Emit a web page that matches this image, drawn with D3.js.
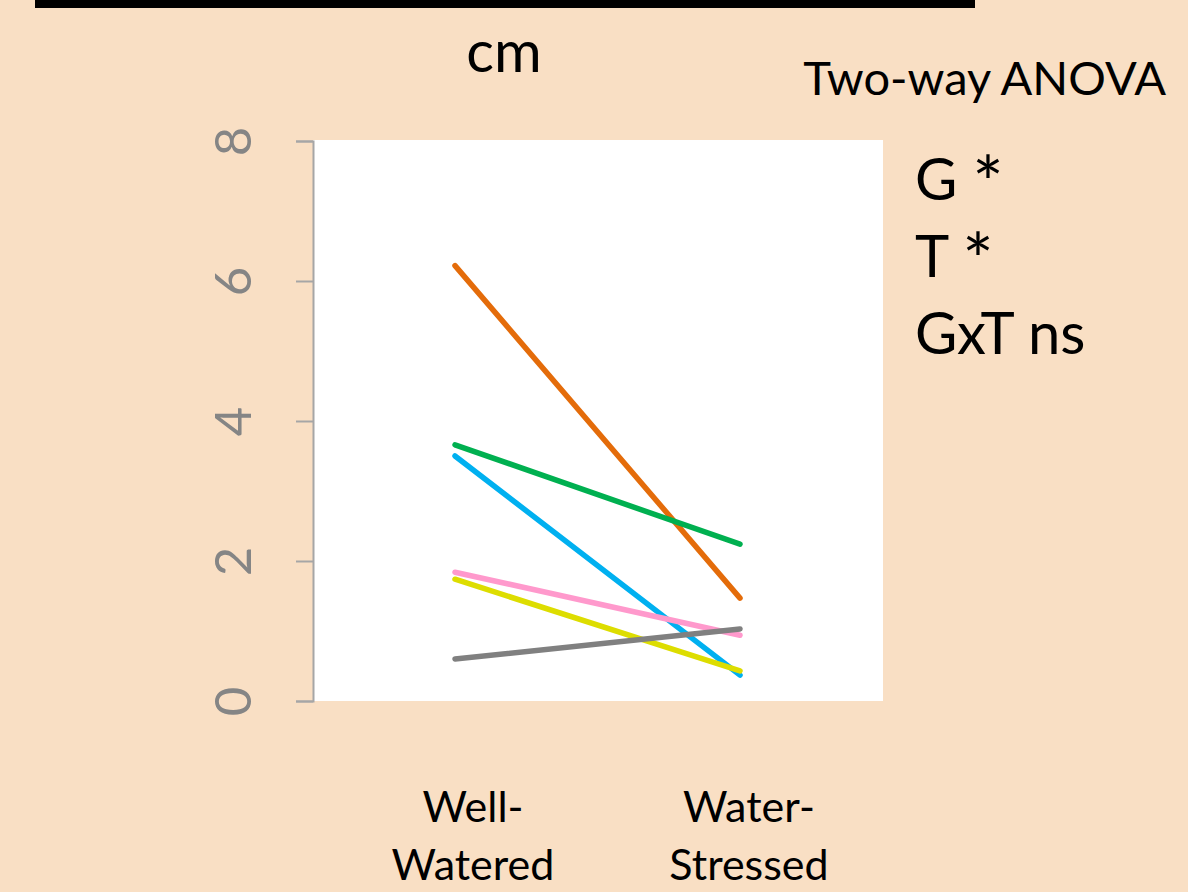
<!DOCTYPE html>
<html>
<head>
<meta charset="utf-8">
<script src="https://cdn.jsdelivr.net/npm/d3@7"></script>
<style>
  html, body { margin: 0; padding: 0; background: #f9dfc4; }
  svg { display: block; }
</style>
</head>
<body>
<svg id="chart" width="1188" height="892"></svg>
<script>
// Treatments on the x axis
const treatments = ["Well-Watered", "Water-Stressed"];
const treatmentLines = [["Well-", "Watered"], ["Water-", "Stressed"]];

// Genotype means (cm) under each treatment
const genotypes = ["orange", "green", "blue", "pink", "yellow", "gray"];
const wellWatered   = [6.22, 3.66, 3.50, 1.84, 1.74, 0.60];
const waterStressed = [1.47, 2.24, 0.37, 0.94, 0.43, 1.03];
const lineColors = ["#e46c0a", "#00b050", "#00b0f0", "#ff99cc", "#dddd00", "#808080"];

// Y axis ticks
const yTicks = [0, 2, 4, 6, 8];

// ANOVA summary: effect name and significance
const anovaTitle = "Two-way ANOVA";
const anovaEffects = ["G", "T", "GxT"];
const anovaSignif = ["*", "*", "ns"];

const svg = d3.select("#chart");
const font = "Lato, 'Open Sans', sans-serif";

// Background and header rule
svg.append("rect").attr("width", 1188).attr("height", 892).attr("fill", "#f9dfc4");
svg.append("rect").attr("x", 35).attr("y", 0).attr("width", 940).attr("height", 8).attr("fill", "#000");

const plot = { left: 313, right: 883, top: 141, bottom: 701 };

svg.append("rect")
  .attr("x", plot.left).attr("y", plot.top - 1)
  .attr("width", plot.right - plot.left).attr("height", plot.bottom - plot.top + 1)
  .attr("fill", "#ffffff");

const x = d3.scalePoint().domain(treatments).range([455, 740]);
const y = d3.scaleLinear().domain([0, 8]).range([plot.bottom, plot.top]);

// Y axis (tick labels rotated, base-graphics style)
const yAxis = svg.append("g")
  .attr("transform", `translate(${plot.left},0)`)
  .call(d3.axisLeft(y).tickValues(yTicks).tickSize(17).tickSizeOuter(17).tickPadding(0).tickFormat(d3.format("d")));
yAxis.select(".domain").attr("stroke", "#a6a6a6").attr("stroke-width", 2);
yAxis.selectAll(".tick line").attr("stroke", "#a6a6a6").attr("stroke-width", 2);
yAxis.selectAll(".tick text")
  .attr("x", 0).attr("dy", 0)
  .attr("transform", "translate(-82,0) rotate(-90)")
  .attr("text-anchor", "middle")
  .attr("dominant-baseline", "central")
  .attr("fill", "#858585")
  .style("font-family", font)
  .style("font-size", "51px");

// One line per genotype
const lineGen = d3.line().x(d => x(d[0])).y(d => y(d[1]));
genotypes.forEach((g, i) => {
  svg.append("path")
    .datum([[treatments[0], wellWatered[i]], [treatments[1], waterStressed[i]]])
    .attr("d", lineGen)
    .attr("fill", "none")
    .attr("stroke", lineColors[i])
    .attr("stroke-width", 5.5)
    .attr("stroke-linecap", "round");
});

// X category labels
const labelX = [473, 749];
treatmentLines.forEach((lines, i) => {
  lines.forEach((t, j) => {
    svg.append("text")
      .attr("x", labelX[i]).attr("y", 822 + j * 58)
      .attr("text-anchor", "middle")
      .style("font-family", font).style("font-size", "43px")
      .attr("fill", "#000")
      .text(t);
  });
});

// Unit label
svg.append("text")
  .attr("x", 504).attr("y", 72)
  .attr("text-anchor", "middle")
  .style("font-family", font).style("font-size", "58px")
  .text("cm");

// ANOVA annotation
svg.append("text")
  .attr("x", 1166).attr("y", 95)
  .attr("text-anchor", "end")
  .style("font-family", font).style("font-size", "47px")
  .text(anovaTitle);

anovaEffects.forEach((eff, i) => {
  const t = svg.append("text")
    .attr("x", 915).attr("y", 200 + i * 77)
    .style("font-family", font).style("font-size", "58px");
  t.append("tspan").text(eff + " ");
  const sig = t.append("tspan").text(anovaSignif[i]);
  if (anovaSignif[i] === "*") {
    sig.style("font-size", "74px").attr("dy", 10);
  }
});
</script>
</body>
</html>
